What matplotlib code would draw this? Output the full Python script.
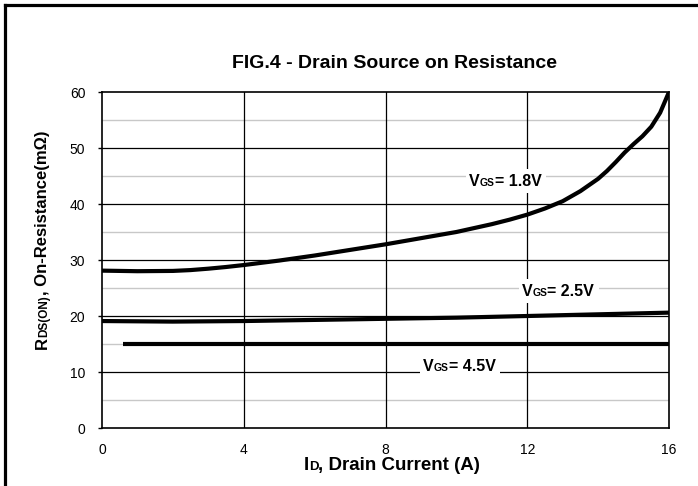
import matplotlib
matplotlib.use("Agg")
import matplotlib.pyplot as plt
from matplotlib.lines import Line2D
from matplotlib.patches import Rectangle
from matplotlib.transforms import IdentityTransform

plt.rcParams["font.family"] = ["Liberation Sans", "DejaVu Sans"]

# Drain current (A) and Rds(on) (mOhm)
id_18 = [0, 1, 2, 2.5, 3, 3.5, 4, 5, 6, 7, 8, 9, 10, 11, 11.5, 12, 12.5,
         13, 13.5, 14, 14.25, 14.5, 14.75, 15, 15.25, 15.5, 15.75, 16]
rds_18 = [28.1, 28.0, 28.05, 28.2, 28.45, 28.75, 29.1, 29.9, 30.8, 31.8,
          32.8, 33.9, 35.0, 36.4, 37.2, 38.1, 39.2, 40.5, 42.3, 44.5, 45.9,
          47.5, 49.2, 50.7, 52.1, 53.8, 56.3, 60.0]

id_25 = [0, 2, 4, 6, 8, 10, 12, 14, 16]
rds_25 = [19.1, 19.0, 19.1, 19.3, 19.5, 19.7, 20.0, 20.3, 20.6]

id_45 = [0.6, 4, 8, 12, 16]
rds_45 = [15.0, 15.0, 15.0, 15.0, 15.0]

x_ticks = [0, 4, 8, 12, 16]
y_ticks = [0, 10, 20, 30, 40, 50, 60]
y_minor = [5, 15, 25, 35, 45, 55]

W, H = 698, 486


def place_pieces(fig, x, y, pieces, rotation=0, center=False, zorder=3):
    """Draw (text, size) pieces one after another on a shared baseline.
    x, y are display pixels of the baseline start (or centre)."""
    renderer = fig.canvas.get_renderer()
    texts = []
    lengths = []
    for s, size in pieces:
        t = fig.text(0, 0, s, fontsize=size, fontweight="bold",
                     rotation=rotation, rotation_mode="anchor",
                     ha="left", va="baseline", transform=IdentityTransform(),
                     zorder=zorder)
        bb = t.get_window_extent(renderer)
        lengths.append(bb.height if rotation == 90 else bb.width)
        texts.append(t)
    total = sum(lengths)
    pos = -total / 2 if center else 0
    for t, ln in zip(texts, lengths):
        if rotation == 90:
            t.set_position((x, y + pos))
        else:
            t.set_position((x + pos, y))
        pos += ln
    return texts


def main():
    fig = plt.figure(figsize=(W / 100, H / 100), dpi=100)
    ax = fig.add_axes([102 / W, 1 - 428 / H, (669 - 102) / W, (428 - 92) / H])

    ax.set_xlim(0, 16)
    ax.set_ylim(0, 60)
    ax.set_xticks(x_ticks)
    ax.set_yticks(y_ticks)
    ax.set_yticks(y_minor, minor=True)

    for v in y_minor:
        ax.axhline(v, color="#c8c8c8", linewidth=1.0, zorder=0.5)
    for v in y_ticks[1:-1]:
        ax.axhline(v, color="black", linewidth=0.9, zorder=0.6)
    for v in x_ticks[1:-1]:
        ax.axvline(v, color="black", linewidth=0.9, zorder=0.6)

    ax.plot(id_18, rds_18, color="black", linewidth=3, zorder=2,
            solid_capstyle="butt", solid_joinstyle="round")
    ax.plot(id_25, rds_25, color="black", linewidth=3, zorder=2,
            solid_capstyle="butt")
    ax.plot(id_45, rds_45, color="black", linewidth=3, zorder=2,
            solid_capstyle="butt")

    ax.tick_params(axis="y", which="major", direction="out", length=3,
                   width=1, pad=9, labelsize=10)
    ax.tick_params(axis="y", which="minor", length=0)
    ax.tick_params(axis="x", length=0, pad=11, labelsize=10)
    for sp in ax.spines.values():
        sp.set_linewidth(1.2)

    # Curve labels with white backing that hides the grid
    renderer = fig.canvas.get_renderer()
    labels = [(10.36, 43.2, "1.8V"), (11.85, 23.6, "2.5V"),
              (9.06, 10.2, "4.5V")]
    for lx, ly, val in labels:
        px, py = ax.transData.transform((lx, ly))
        texts = place_pieces(fig, px, py,
                             [("V", 11.5), ("GS", 7.5), ("= " + val, 11.5)])
        bbs = [t.get_window_extent(renderer) for t in texts]
        x0 = min(b.x0 for b in bbs) - 3
        x1 = max(b.x1 for b in bbs) + 5
        y0 = min(b.y0 for b in bbs) - 4
        y1 = max(b.y1 for b in bbs) + 5
        rect = Rectangle((x0, y0), x1 - x0, y1 - y0, facecolor="white",
                         edgecolor="none", transform=IdentityTransform(),
                         zorder=1.5, clip_on=False)
        ax.add_artist(rect)

    fig.text(395 / W, 1 - 68 / H, "FIG.4 - Drain Source on Resistance",
             ha="center", va="baseline", fontsize=14, fontweight="bold")

    place_pieces(fig, 392, H - 470,
                 [("I", 13.5), ("D", 9.5), (", Drain Current (A)", 13.5)],
                 center=True)
    place_pieces(fig, 47, H - 240,
                 [("R", 12), ("DS(ON)", 8.5), (", On-Resistance(mΩ)", 12)],
                 rotation=90, center=True)

    # Outer frame (only top and left edges are visible in the original)
    fig.add_artist(Line2D([5 / W, 1.0], [1 - 5 / H, 1 - 5 / H],
                          color="black", linewidth=2.3,
                          transform=fig.transFigure))
    fig.add_artist(Line2D([5 / W, 5 / W], [0.0, 1 - 5 / H],
                          color="black", linewidth=2.3,
                          transform=fig.transFigure))

    fig.savefig("out.png", dpi=100)
    plt.close(fig)


if __name__ == "__main__":
    main()
